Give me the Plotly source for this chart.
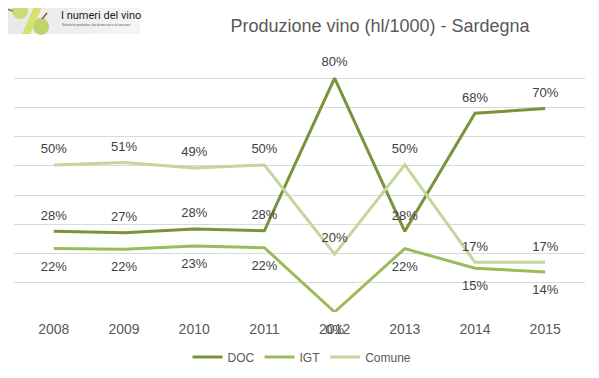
import plotly.graph_objects as go

years = ["2008", "2009", "2010", "2011", "2012", "2013", "2014", "2015"]
doc = [0.276, 0.271, 0.284, 0.278, 0.80, 0.276, 0.68, 0.696]
igt = [0.217, 0.215, 0.226, 0.22, 0.0, 0.217, 0.15, 0.137]
comune = [0.503, 0.512, 0.493, 0.503, 0.198, 0.504, 0.17, 0.17]
doc_lbl = ["28%", "27%", "28%", "28%", "80%", "28%", "68%", "70%"]
igt_lbl = ["22%", "22%", "23%", "22%", "0%", "22%", "15%", "14%"]
com_lbl = ["50%", "51%", "49%", "50%", "20%", "50%", "17%", "17%"]

# page body adds an 8px offset; figure sized to the visible viewport
OFF = 8
W, H = 599 - OFF, 378 - OFF
L, R, T, B = 14 - OFF, 14, 49 - OFF, 66
PW, PH = W - L - R, H - T - B


def px(x):  # screen x -> paper
    return (x - OFF - L) / PW


def py(y):  # screen y -> paper
    return (H + OFF - B - y) / PH


lab_font = dict(family="Liberation Sans, Arial, sans-serif", size=13, color="#404040")
top_mark = dict(size=12, color="rgba(0,0,0,0)")
bot_mark = dict(size=18, color="rgba(0,0,0,0)")

fig = go.Figure()
fig.add_trace(go.Scatter(x=years, y=doc, name="DOC", mode="lines+markers+text",
                         line=dict(color="#77933C", width=3), marker=top_mark,
                         text=doc_lbl, textposition="top center", textfont=lab_font,
                         cliponaxis=False))
fig.add_trace(go.Scatter(x=years, y=igt, name="IGT", mode="lines+markers+text",
                         line=dict(color="#9BBB59", width=3), marker=bot_mark,
                         text=igt_lbl, textposition="bottom center", textfont=lab_font,
                         cliponaxis=False))
fig.add_trace(go.Scatter(x=years, y=comune, name="Comune", mode="lines+markers+text",
                         line=dict(color="#C3D69B", width=3), marker=top_mark,
                         text=com_lbl, textposition="top center", textfont=lab_font,
                         cliponaxis=False))

shapes = []
# logo background gradient
for i in range(14):
    g = 232 + i
    shapes.append(dict(type="rect", xref="paper", yref="paper",
                       x0=px(i * 10), x1=px(i * 10 + 10), y0=py(34), y1=py(0),
                       fillcolor=f"rgb({g},{g},{g})", line=dict(width=0), layer="below"))
# slanted % bar
shapes.append(dict(type="path", xref="paper", yref="paper",
                   path=f"M {px(36)},{py(2)} L {px(44)},{py(2)} L {px(30)},{py(34)} L {px(22)},{py(34)} Z",
                   fillcolor="#D6E36A", line=dict(width=0)))
# grapes
shapes.append(dict(type="circle", xref="paper", yref="paper",
                   x0=px(12), x1=px(28), y0=py(19), y1=py(4),
                   fillcolor="#C9DC7A", line=dict(width=0)))
shapes.append(dict(type="circle", xref="paper", yref="paper",
                   x0=px(33), x1=px(49), y0=py(35), y1=py(18),
                   fillcolor="#BCD46A", line=dict(width=0)))
shapes.append(dict(type="line", xref="paper", yref="paper",
                   x0=px(6), x1=px(13), y0=py(9), y1=py(11),
                   line=dict(color="#8A7A3A", width=1.5)))
shapes.append(dict(type="line", xref="paper", yref="paper",
                   x0=px(42), x1=px(47), y0=py(19), y1=py(13),
                   line=dict(color="#8A5A2A", width=1.5)))

annotations = [
    dict(text="I numeri del vino", xref="paper", yref="paper", x=px(59), y=py(15),
         xanchor="left", yanchor="middle", showarrow=False,
         font=dict(family="Roboto, Arial, sans-serif", size=11, color="#222222")),
    dict(text="Statistiche produttive, dati di mercato e di consumo.", xref="paper", yref="paper",
         x=px(60), y=py(25), xanchor="left", yanchor="middle", showarrow=False,
         font=dict(family="Liberation Sans, Arial, sans-serif", size=3, color="#555555")),
]

fig.update_layout(
    template="none",
    width=W, height=H,
    margin=dict(l=L, r=R, t=T, b=B, pad=0),
    paper_bgcolor="white", plot_bgcolor="white",
    title=dict(text="Produzione vino (hl/1000) - Sardegna", x=(380 - OFF) / W, xanchor="center",
               xref="container", yref="container", y=1 - (26 - OFF) / H, yanchor="middle",
               font=dict(family="Liberation Sans, Arial, sans-serif", size=18, color="#595959")),
    xaxis=dict(type="category", showgrid=False, zeroline=False, showline=False, ticks="",
               automargin=False, ticklabelstandoff=7,
               tickfont=dict(family="Liberation Sans, Arial, sans-serif", size=14, color="#595959")),
    yaxis=dict(range=[0, 0.9], dtick=0.1, showticklabels=False, showgrid=True, automargin=False,
               gridcolor="#D9D9D9", gridwidth=1, zeroline=False, showline=False),
    legend=dict(orientation="h", x=px(302), xanchor="center", y=py(357), yanchor="middle",
                itemwidth=30,
                font=dict(family="Liberation Sans, Arial, sans-serif", size=12, color="#595959"),
                bgcolor="rgba(0,0,0,0)"),
    shapes=shapes,
    annotations=annotations,
)

fig.write_html("out.html")
